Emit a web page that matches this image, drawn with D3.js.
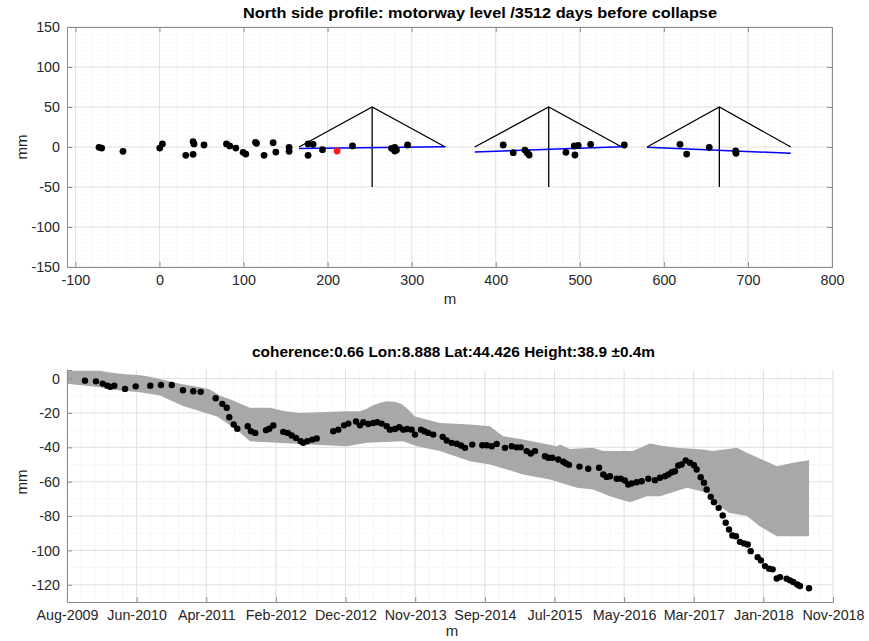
<!DOCTYPE html>
<html>
<head>
<meta charset="utf-8">
<script src="https://cdn.jsdelivr.net/npm/d3@7"></script>
<style>
  html, body { margin: 0; padding: 0; background: #fff; }
  svg { display: block; font-family: "Liberation Sans", Arial, Helvetica, sans-serif; }
</style>
</head>
<body>
<svg id="chart" width="869" height="641"></svg>
<script>
// ---------------- DATA ----------------
// Top panel: profile points (m along bridge, mm displacement)
const profileX = [-71.9, -68.7, -43.4, 0.3, 3.5, 31.3, 40, 40, 41.1, 53, 79.7, 83.6, 90.8, 99.5, 102.7, 115.4, 114.2, 124.4, 135.2, 138.4, 154.2, 154.2,
  176.8, 182.8, 176.8, 193.9, 229.6, 276, 279.9, 281.9, 279.9, 295.1,
  408.9, 420.8, 434.7, 437.4, 439.8, 483.5, 493.4, 498.1, 494.2, 512.9, 552.9,
  619.2, 627.1, 654, 685.4, 685.8];
const profileY = [-0.4, -1.3, -5.4, -1.3, 3.8, -10.4, -9.1, 6.6, 3.8, 2.5, 3.8, 1.3, -1.3, -6.6, -8.8, 4.6, 5.9, -10.4, 5.4, -6.3, -0.4, -5.4,
  3.8, 3.4, -10.4, -3.4, 1.3, -1.6, -0.4, -3.8, -5, 2.5,
  2.5, -7.1, -3.8, -7.1, -10, -6.6, 1.3, 2.1, -10, 3.4, 2.5,
  3.4, -8.8, -0.4, -5, -7.9];
const selectedX = [211.3];
const selectedY = [-5.0];

// Pylon / stay geometry (m, mm)
const spanStart = [166, 375, 580];
const pylonX = [253, 463, 666];
const spanEnd = [340, 550, 751];
const pylonTop = 50;
const pylonBottom = -50;
// Linear fits per span (mm at span start / end)
const fitStartY = [-2.0, -6.2, -0.4];
const fitEndY = [0.4, 0.4, -7.9];

const topXTicks = [-100, 0, 100, 200, 300, 400, 500, 600, 700, 800];
const topYTicks = [-150, -100, -50, 0, 50, 100, 150];

// Bottom panel: time series (decimal year, mm)
const tsYear = [2009.850, 2009.983, 2010.064, 2010.120, 2010.156, 2010.204, 2010.334, 2010.463, 2010.639, 2010.768, 2010.898,
  2011.034, 2011.158, 2011.248, 2011.429, 2011.509, 2011.562, 2011.593, 2011.646, 2011.690, 2011.816, 2011.855, 2011.907,
  2012.037, 2012.076, 2012.125, 2012.245, 2012.299, 2012.347, 2012.399, 2012.456, 2012.487, 2012.535, 2012.596, 2012.649,
  2012.849, 2012.910, 2012.979, 2013.031, 2013.124, 2013.172, 2013.212, 2013.272, 2013.332, 2013.381, 2013.434, 2013.494,
  2013.534, 2013.595, 2013.647, 2013.695, 2013.743, 2013.796, 2013.836, 2013.909, 2013.949, 2013.997, 2014.057, 2014.171,
  2014.219, 2014.279, 2014.340, 2014.392, 2014.440, 2014.528, 2014.649, 2014.702, 2014.763, 2014.823, 2014.923, 2015.004,
  2015.064, 2015.113, 2015.185, 2015.234, 2015.286, 2015.406, 2015.446, 2015.495, 2015.567, 2015.627, 2015.660, 2015.696,
  2015.823, 2015.929, 2016.059, 2016.110, 2016.151, 2016.191, 2016.272, 2016.321, 2016.372, 2016.412, 2016.453, 2016.514,
  2016.574, 2016.654, 2016.735, 2016.795, 2016.856, 2016.896, 2016.937, 2016.976, 2017.016, 2017.057, 2017.106, 2017.158,
  2017.206, 2017.238, 2017.287, 2017.327, 2017.359, 2017.408, 2017.447, 2017.504, 2017.553, 2017.589, 2017.629, 2017.669,
  2017.713, 2017.761, 2017.810, 2017.855, 2017.891, 2017.975, 2018.015, 2018.063, 2018.115, 2018.156, 2018.205, 2018.245,
  2018.325, 2018.365, 2018.405, 2018.453, 2018.486, 2018.595];
const tsMM = [-1.2, -1.6, -2.9, -4.1, -4.8, -4.1, -6.0, -4.5, -4.1, -3.7, -3.7,
  -6.8, -7.4, -7.7, -11.4, -14.7, -17.0, -22.5, -26.7, -29.2, -27.7, -30.6, -31.6,
  -30.0, -29.2, -27.3, -31.0, -31.6, -33.1, -34.5, -36.5, -37.4, -36.5, -35.5, -34.9,
  -30.6, -29.7, -27.2, -26.2, -25.0, -27.2, -25.4, -26.4, -25.8, -25.4, -26.2, -27.7,
  -29.7, -29.3, -28.3, -29.7, -29.3, -29.7, -32.6, -29.7, -30.6, -31.6, -32.6, -33.9,
  -36.0, -37.4, -37.9, -38.9, -40.3, -38.4, -38.8, -38.8, -39.4, -38.0, -40.3, -39.4,
  -40.0, -40.0, -42.2, -43.6, -42.2, -45.2, -46.1, -46.1, -47.1, -48.4, -49.4, -50.2,
  -51.2, -52.5, -51.9, -55.8, -57.2, -56.8, -58.3, -58.3, -59.3, -61.6, -61.0, -60.3,
  -59.7, -58.3, -59.1, -57.7, -56.8, -55.8, -54.5, -53.9, -50.6, -50.0, -47.7, -49.0,
  -50.4, -52.9, -57.4, -60.6, -64.5, -68.8, -71.9, -75.2, -79.7, -83.9, -87.8, -91.3,
  -91.7, -95.0, -95.9, -96.5, -100.4, -103.9, -105.8, -109.1, -110.6, -111.0, -116.3, -115.5,
  -116.4, -117.4, -118.4, -119.8, -120.7, -122.0];

// Uncertainty band edges (decimal year, mm)
const bandUpYear = [2009.633, 2010.032, 2010.152, 2010.334, 2010.515, 2010.635, 2010.817, 2010.998, 2011.239, 2011.360,
  2011.481, 2011.602, 2011.843, 2012.085, 2012.266, 2012.447, 2013.011, 2013.172, 2013.253, 2013.329, 2013.413, 2013.498,
  2013.595, 2013.679, 2013.752, 2013.836, 2014.138, 2014.501, 2014.742, 2014.899, 2015.141, 2015.551, 2015.587, 2015.708,
  2015.986, 2016.107, 2016.469, 2016.674, 2016.795, 2017.000, 2017.314, 2017.435, 2017.723, 2017.846, 2018.208, 2018.402,
  2018.595];
const bandUpMM = [4.5, 4.5, 3.5, 2.5, 2.0, 1.0, -1.0, -3.0, -5.0, -6.4,
  -10.0, -12.0, -17.0, -17.0, -19.0, -20.0, -19.0, -19.0, -17.5, -15.5, -14.0, -13.2,
  -13.5, -15.0, -18.0, -22.0, -25.8, -26.7, -27.7, -33.5, -35.5, -39.4, -38.4, -40.9,
  -40.3, -42.2, -42.2, -37.8, -39.0, -40.3, -41.3, -42.2, -40.3, -43.2, -51.0, -49.0,
  -47.5];
const bandLoYear = [2009.633, 2010.032, 2010.152, 2010.515, 2010.756, 2011.034, 2011.445, 2011.686, 2011.843, 2012.169,
  2012.568, 2013.014, 2013.256, 2013.691, 2013.860, 2014.138, 2014.501, 2014.742, 2014.947, 2015.141, 2015.467, 2015.793,
  2015.986, 2016.191, 2016.433, 2016.638, 2016.795, 2017.121, 2017.363, 2017.517, 2017.629, 2017.846, 2018.000, 2018.208,
  2018.595];
const bandLoMM = [-3.0, -5.0, -6.4, -8.0, -9.9, -16.0, -22.0, -29.7, -36.4, -37.4,
  -38.4, -39.4, -37.4, -36.4, -39.4, -42.2, -48.1, -50.0, -52.9, -55.8, -58.7, -63.5,
  -64.5, -68.4, -71.9, -68.4, -68.4, -63.5, -66.5, -74.2, -78.1, -80.0, -85.9, -91.7,
  -91.7];

const botXTickYears = [2009.633, 2010.474, 2011.315, 2012.156, 2012.997, 2013.839, 2014.680, 2015.521, 2016.362, 2017.203, 2018.044, 2018.885];
const botXTickLabels = ["Aug-2009", "Jun-2010", "Apr-2011", "Feb-2012", "Dec-2012", "Nov-2013", "Sep-2014", "Jul-2015", "May-2016", "Mar-2017", "Jan-2018", "Nov-2018"];
const botYTicks = [-120, -100, -80, -60, -40, -20, 0];

// ---------------- DRAW ----------------
const svg = d3.select("#chart");
const axisColor = "#8c8c8c";
const textColor = "#262626";
const majorGrid = "#e2e2e2";
const minorGrid = "#efefef";
const tickFont = "14.3px";
const plainNum = d => String(d);

function drawGrid(g, x, y, xMinor, yMinor, xMajor, yMajor) {
  const [x0, x1] = x.range();
  const [y0, y1] = y.range();
  g.append("g").selectAll("line").data(xMinor).join("line")
    .attr("x1", d => x(d)).attr("x2", d => x(d)).attr("y1", y0).attr("y2", y1)
    .attr("stroke", minorGrid).attr("stroke-width", 1).attr("stroke-dasharray", "1,1");
  g.append("g").selectAll("line").data(yMinor).join("line")
    .attr("y1", d => y(d)).attr("y2", d => y(d)).attr("x1", x0).attr("x2", x1)
    .attr("stroke", minorGrid).attr("stroke-width", 1).attr("stroke-dasharray", "1,1");
  g.append("g").selectAll("line").data(xMajor).join("line")
    .attr("x1", d => x(d)).attr("x2", d => x(d)).attr("y1", y0).attr("y2", y1)
    .attr("stroke", majorGrid).attr("stroke-width", 1);
  g.append("g").selectAll("line").data(yMajor).join("line")
    .attr("y1", d => y(d)).attr("y2", d => y(d)).attr("x1", x0).attr("x2", x1)
    .attr("stroke", majorGrid).attr("stroke-width", 1);
}

function styleAxis(sel) {
  sel.select(".domain").attr("stroke", axisColor).attr("stroke-width", 1);
  sel.selectAll(".tick line").attr("stroke", axisColor);
  sel.selectAll(".tick text").attr("fill", textColor).style("font-size", tickFont)
    .style("font-family", '"Liberation Sans", Arial, Helvetica, sans-serif');
}

// ----- Top panel -----
const xTop = d3.scaleLinear().domain([-110, 800]).range([67, 832]);
const yTop = d3.scaleLinear().domain([-150, 150]).range([267, 27]);
const gTop = svg.append("g");

drawGrid(gTop, xTop, yTop, d3.range(-100, 801, 20), d3.range(-150, 151, 10), topXTicks, topYTicks);

// Stay triangles and pylons
const lineGen = d3.line().x(d => xTop(d[0])).y(d => yTop(d[1]));
spanStart.forEach((s, i) => {
  gTop.append("path")
    .attr("d", lineGen([[s, 0], [pylonX[i], pylonTop], [spanEnd[i], 0]]))
    .attr("fill", "none").attr("stroke", "#000").attr("stroke-width", 1.3);
  gTop.append("path")
    .attr("d", lineGen([[pylonX[i], pylonTop], [pylonX[i], pylonBottom]]))
    .attr("fill", "none").attr("stroke", "#000").attr("stroke-width", 1.3);
});
// Fit lines
spanStart.forEach((s, i) => {
  gTop.append("path")
    .attr("d", lineGen([[s, fitStartY[i]], [spanEnd[i], fitEndY[i]]]))
    .attr("fill", "none").attr("stroke", "#0000ff").attr("stroke-width", 1.5);
});

gTop.append("g").selectAll("circle").data(profileX).join("circle")
  .attr("cx", d => xTop(d)).attr("cy", (d, i) => yTop(profileY[i])).attr("r", 3.4).attr("fill", "#000");
gTop.append("g").selectAll("circle").data(selectedX).join("circle")
  .attr("cx", d => xTop(d)).attr("cy", (d, i) => yTop(selectedY[i])).attr("r", 3.4).attr("fill", "#ff1a1a");

// Axes (box with inward ticks)
const tl = 5;
gTop.append("g").attr("transform", "translate(0,267)")
  .call(d3.axisBottom(xTop).tickValues(topXTicks).tickSize(-tl).tickPadding(8).tickFormat(plainNum))
  .call(styleAxis);
gTop.append("g").attr("transform", "translate(0,27)")
  .call(d3.axisTop(xTop).tickValues(topXTicks).tickSize(-tl).tickFormat(""))
  .call(styleAxis);
gTop.append("g").attr("transform", "translate(67,0)")
  .call(d3.axisLeft(yTop).tickValues(topYTicks).tickSize(-tl).tickPadding(7).tickFormat(plainNum))
  .call(styleAxis);
gTop.append("g").attr("transform", "translate(832,0)")
  .call(d3.axisRight(yTop).tickValues(topYTicks).tickSize(-tl).tickFormat(""))
  .call(styleAxis);

svg.append("text").attr("x", 480).attr("y", 18).attr("text-anchor", "middle")
  .attr("textLength", 474).attr("lengthAdjust", "spacingAndGlyphs")
  .style("font-weight", "bold").style("font-size", "15.5px").attr("fill", "#000")
  .text("North side profile: motorway level /3512 days before collapse");
svg.append("text").attr("x", 450).attr("y", 304).attr("text-anchor", "middle")
  .style("font-size", "15px").attr("fill", textColor).text("m");
svg.append("text").attr("transform", "translate(27,147) rotate(-90)").attr("text-anchor", "middle")
  .style("font-size", "15px").attr("fill", textColor).text("mm");

// ----- Bottom panel -----
const xBot = d3.scaleLinear().domain([2009.633, 2018.885]).range([67, 833]);
const yBot = d3.scaleLinear().domain([-130, 5]).range([602, 370]);
const gBot = svg.append("g");

const step = (botXTickYears[botXTickYears.length - 1] - botXTickYears[0]) / (botXTickYears.length - 1);
const xMinorBot = d3.range(0, (botXTickYears.length - 1) * 5 + 1).map(k => botXTickYears[0] + k * step / 5);
drawGrid(gBot, xBot, yBot, xMinorBot, d3.range(-130, 1, 10), botXTickYears, botYTicks);

// Band polygon: upper edge forward, lower edge back
const bandPts = bandUpYear.map((t, i) => [t, bandUpMM[i]])
  .concat(bandLoYear.map((t, i) => [t, bandLoMM[i]]).reverse());
gBot.append("path")
  .attr("d", d3.line().x(d => xBot(d[0])).y(d => yBot(d[1]))(bandPts) + "Z")
  .attr("fill", "#a8a8a8").attr("stroke", "none");

gBot.append("g").selectAll("circle").data(tsYear).join("circle")
  .attr("cx", d => xBot(d)).attr("cy", (d, i) => yBot(tsMM[i])).attr("r", 3.2).attr("fill", "#000");

gBot.append("g").attr("transform", "translate(0,602)")
  .call(d3.axisBottom(xBot).tickValues(botXTickYears).tickSize(-tl).tickPadding(8)
    .tickFormat((d, i) => botXTickLabels[i]))
  .call(styleAxis);
gBot.append("g").attr("transform", "translate(67,0)")
  .call(d3.axisLeft(yBot).tickValues(botYTicks).tickSize(-tl).tickPadding(7).tickFormat(plainNum))
  .call(styleAxis);

svg.append("text").attr("x", 453.5).attr("y", 357).attr("text-anchor", "middle")
  .attr("textLength", 403).attr("lengthAdjust", "spacingAndGlyphs")
  .style("font-weight", "bold").style("font-size", "15.3px").attr("fill", "#000")
  .text("coherence:0.66 Lon:8.888 Lat:44.426 Height:38.9 \u00B10.4m");
svg.append("text").attr("x", 452).attr("y", 636).attr("text-anchor", "middle")
  .style("font-size", "15px").attr("fill", textColor).text("m");
svg.append("text").attr("transform", "translate(27,482) rotate(-90)").attr("text-anchor", "middle")
  .style("font-size", "15px").attr("fill", textColor).text("mm");
</script>
</body>
</html>
